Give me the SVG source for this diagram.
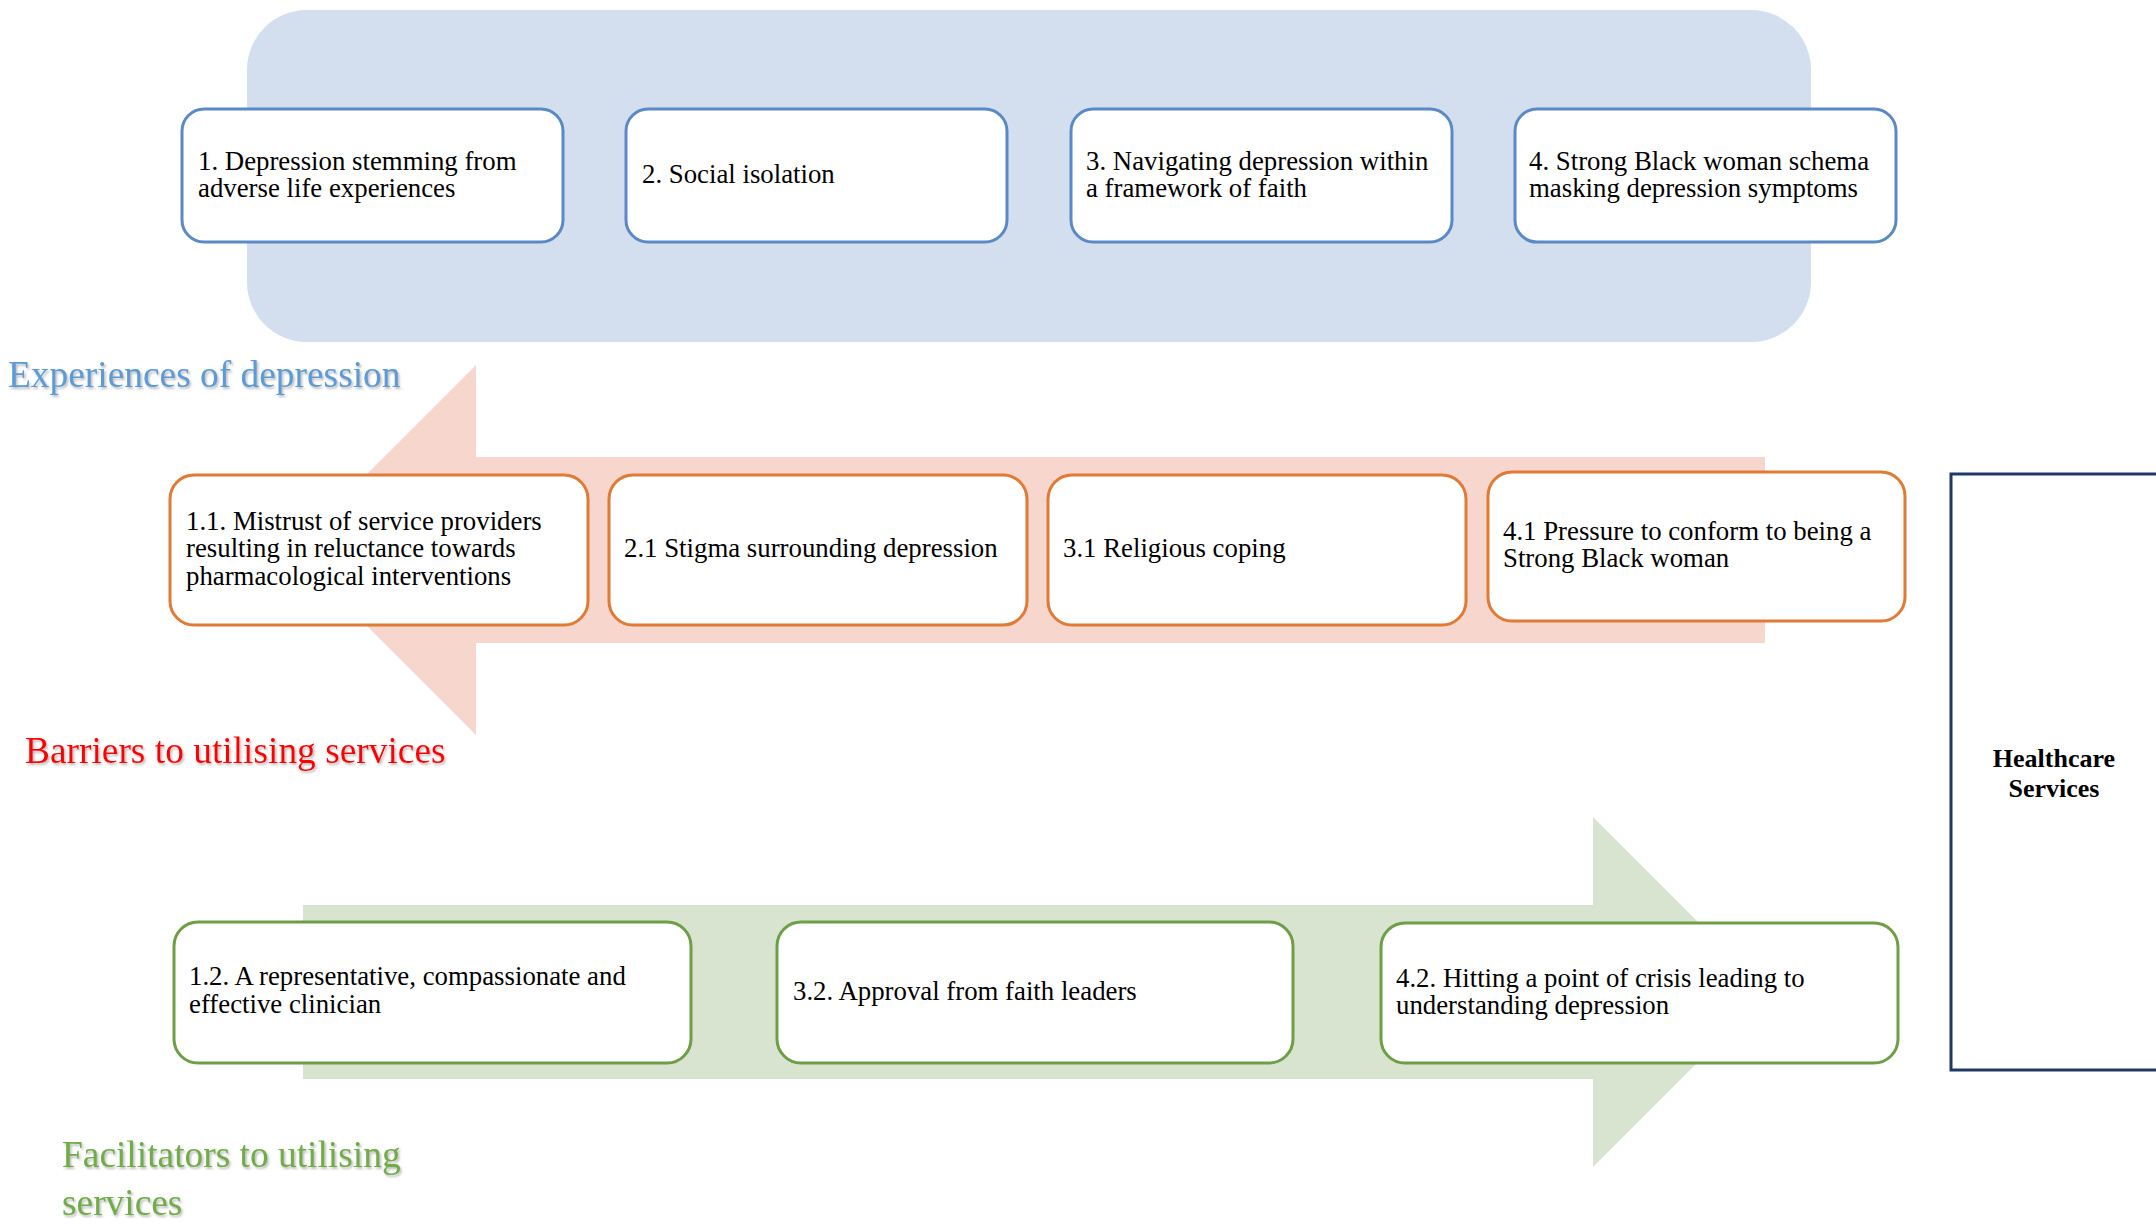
<svg xmlns="http://www.w3.org/2000/svg" width="2156" height="1224" viewBox="0 0 2156 1224">
<defs>
<style>
.t{font-family:"Liberation Serif","Times New Roman",serif;font-size:26.8px;fill:#000}
.hb{fill:#fff;stroke:#5A8AC6;stroke-width:3}
.ob{fill:#fff;stroke:#E07A34;stroke-width:3}
.gb{fill:#fff;stroke:#6E9E45;stroke-width:3}
.h{font-family:"Liberation Serif","Times New Roman",serif;font-size:37.4px;filter:url(#sh)}
</style>
<filter id="sh" x="-5%" y="-20%" width="110%" height="140%">
<feDropShadow dx="1.5" dy="2" stdDeviation="1" flood-color="#808080" flood-opacity="0.55"/>
</filter>
</defs>
<rect width="2156" height="1224" fill="#fff"/>
<g id="background-experiences">
<rect x="247" y="10" width="1564" height="332" rx="60" ry="60" fill="#D3DEEF"/>
</g>
<g id="arrows">
<polygon points="1765,457 476,457 476,365 291,550 476,735 476,643 1765,643" fill="#F7D7CD"/>
<polygon points="303,905 1593,905 1593,817 1768,992 1593,1167 1593,1079 303,1079" fill="#D8E4D0"/>
</g>
<g id="n1"><rect class="hb" x="182" y="109" width="381" height="133" rx="22"/><text class="t" x="198" y="170">1. Depression stemming from</text><text class="t" x="198" y="197">adverse life experiences</text></g>
<g id="n2"><rect class="hb" x="626" y="109" width="381" height="133" rx="22"/><text class="t" x="642" y="183">2. Social isolation</text></g>
<g id="n3"><rect class="hb" x="1071" y="109" width="381" height="133" rx="22"/><text class="t" x="1086" y="170">3. Navigating depression within</text><text class="t" x="1086" y="197">a framework of faith</text></g>
<g id="n4"><rect class="hb" x="1515" y="109" width="381" height="133" rx="22"/><text class="t" x="1529" y="170">4. Strong Black woman schema</text><text class="t" x="1529" y="197">masking depression symptoms</text></g>
<g id="n11"><rect class="ob" x="170" y="475" width="418" height="150" rx="24"/><text class="t" x="186" y="530">1.1. Mistrust of service providers</text><text class="t" x="186" y="557">resulting in reluctance towards</text><text class="t" x="186" y="585">pharmacological interventions</text></g>
<g id="n21"><rect class="ob" x="609" y="475" width="418" height="150" rx="24"/><text class="t" x="624" y="557">2.1 Stigma surrounding depression</text></g>
<g id="n31"><rect class="ob" x="1048" y="475" width="418" height="150" rx="24"/><text class="t" x="1063" y="557">3.1 Religious coping</text></g>
<g id="n41"><rect class="ob" x="1488" y="472" width="417" height="149" rx="24"/><text class="t" x="1503" y="540">4.1 Pressure to conform to being a</text><text class="t" x="1503" y="567">Strong Black woman</text></g>
<g id="n12"><rect class="gb" x="174" y="922" width="517" height="141" rx="24"/><text class="t" x="189" y="985">1.2. A representative, compassionate and</text><text class="t" x="189" y="1013">effective clinician</text></g>
<g id="n32"><rect class="gb" x="777" y="922" width="516" height="141" rx="24"/><text class="t" x="793" y="1000">3.2. Approval from faith leaders</text></g>
<g id="n42"><rect class="gb" x="1381" y="923" width="517" height="140" rx="24"/><text class="t" x="1396" y="987">4.2. Hitting a point of crisis leading to</text><text class="t" x="1396" y="1014">understanding depression</text></g>
<g id="healthcare"><rect x="1951" y="474" width="300" height="596" fill="#fff" stroke="#1F3864" stroke-width="3"/><text x="2054" y="767" text-anchor="middle" font-family="Liberation Serif, serif" font-size="26" font-weight="bold">Healthcare</text><text x="2054" y="797" text-anchor="middle" font-family="Liberation Serif, serif" font-size="26" font-weight="bold">Services</text></g>
<g id="labels">
<text class="h" x="8" y="387" fill="#5B9BD5">Experiences of depression</text>
<text class="h" x="25" y="763" fill="#FF0000">Barriers to utilising services</text>
<text class="h" x="62" y="1167" fill="#70AD47">Facilitators to utilising</text>
<text class="h" x="62" y="1215" fill="#70AD47">services</text>
</g>
</svg>
